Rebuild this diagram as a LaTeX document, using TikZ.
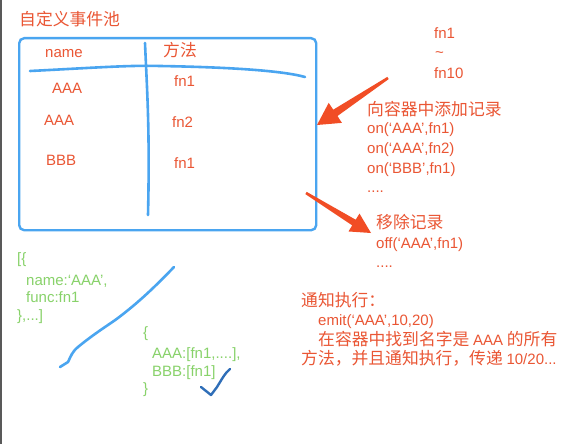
\documentclass[tikz,border=0pt]{standalone}
\usepackage{fontspec}
\setmainfont{Liberation Sans}
\newfontfamily\cjk{Noto Sans CJK SC}
\usetikzlibrary{arrows.meta,calc}
\definecolor{txtred}{HTML}{EA5634}
\definecolor{arrred}{HTML}{F14D25}
\definecolor{penblue}{HTML}{4AA5F0}
\definecolor{pengreen}{HTML}{88D26A}
\definecolor{checkblue}{HTML}{2F6EB8}
\newcommand\latxt[1]{{\rmfamily\fontsize{15}{18}\selectfont #1}}
\begin{document}
\begin{tikzpicture}[x=1pt,y=-1pt,
  lbl/.style={inner sep=0pt, anchor=base west, font=\fontsize{15}{18}\selectfont, text=txtred},
  cn/.style={lbl, font=\cjk\fontsize{16.8}{20}\selectfont},
  grn/.style={lbl, text=pengreen},
  pen/.style={penblue, line width=2.6pt, line cap=round, line join=round}]
\useasboundingbox (0,0) rectangle (568,444);
\fill[white] (0,0) rectangle (568,444);
\fill[black!65] (0,0) rectangle (2.2,444);

% title
\node[cn] (title) at (19,26) {自定义事件池};

% pool box
\node[draw=penblue, line width=2.4pt, rounded corners=5pt, minimum width=297pt,
      minimum height=192pt, anchor=north west, inner sep=0pt] (pool) at (18,37) {};
\draw[pen] (30,71) .. controls (90,68) and (130,65) .. (160,66)
           .. controls (220,67) and (280,70) .. (305,77);
\draw[pen] (145,43) .. controls (147,90) and (150,130) .. (148,215);

\node[lbl] (hname) at (45,58) {name};
\node[cn] (hfunc) at (163,57) {方法};
\node[lbl] (r1a) at (52,94) {AAA};
\node[lbl] (r2a) at (44,125) {AAA};
\node[lbl] (r3a) at (46,165) {BBB};
\node[lbl] (r1b) at (174,87) {fn1};
\node[lbl] (r2b) at (172,128) {fn2};
\node[lbl] (r3b) at (174,168) {fn1};

% fn range
\node[lbl] (f1) at (434,39) {fn1};
\node[lbl] (ft) at (435,58) {\textasciitilde};
\node[lbl] (f10) at (434,78) {fn10};

% add
\node[cn] (add) at (367,115) {向容器中添加记录};
\node[lbl] (on1) at (367,133) {on(‘AAA’,fn1)};
\node[lbl] (on2) at (367,153) {on(‘AAA’,fn2)};
\node[lbl] (on3) at (367,173) {on(‘BBB’,fn1)};
\node[lbl] (ond) at (367,192) {....};

% remove
\node[cn] (rem) at (376,228) {移除记录};
\node[lbl] (off1) at (376,248) {off(‘AAA’,fn1)};
\node[lbl] (offd) at (376,267) {....};

% tapered arrows
\coordinate (a1s) at (388,78);
\coordinate (a1e) at (317,125);
\coordinate (a1b) at ($(a1e)!22pt!(a1s)$);
\fill[arrred] ($(a1s)!1.3pt!90:(a1e)$) -- ($(a1b)!3.8pt!-90:(a1s)$)
  -- ($(a1b)!12pt!-90:(a1s)$) -- (a1e) -- ($(a1b)!12pt!90:(a1s)$)
  -- ($(a1b)!3.8pt!90:(a1s)$) -- ($(a1s)!1.3pt!-90:(a1e)$) -- cycle;
\coordinate (a2s) at (306,193);
\coordinate (a2e) at (371,233);
\coordinate (a2b) at ($(a2e)!20pt!(a2s)$);
\fill[arrred] ($(a2s)!1.3pt!90:(a2e)$) -- ($(a2b)!3.3pt!-90:(a2s)$)
  -- ($(a2b)!10.5pt!-90:(a2s)$) -- (a2e) -- ($(a2b)!10.5pt!90:(a2s)$)
  -- ($(a2b)!3.3pt!90:(a2s)$) -- ($(a2s)!1.3pt!-90:(a2e)$) -- cycle;

% notify
\node[cn] (emt) at (301,306) {通知执行：};
\node[lbl] (emc) at (318,325) {emit(‘AAA’,10,20)};
\node[cn] (emd1) at (318,345) {在容器中找到名字是 \latxt{AAA} 的所有};
\node[cn] (emd2) at (301,364) {方法，并且通知执行，传递 \latxt{10/20...}};

% green structures
\node[grn] (g1) at (17,263) {[\{};
\node[grn] (g2) at (26,285) {name:‘AAA’,};
\node[grn] (g3) at (26,302) {func:fn1};
\node[grn] (g4) at (17,320) {\},...]};

\node[grn] (h1) at (143,337) {\{};
\node[grn] (h2) at (152,358) {AAA:[fn1,....],};
\node[grn] (h3) at (152,376) {BBB:[fn1]};
\node[grn] (h4) at (143,393) {\}};

% pen strokes
\draw[pen] (60,367) -- (68,362) .. controls (71,356) and (72,352) .. (78,347)
  .. controls (95,333) and (110,324) .. (118,318)
  .. controls (135,305) and (150,292) .. (174,267);
\draw[checkblue, line width=2.4pt, line cap=round, line join=round]
  (201,387) -- (211,395) -- (217,387) .. controls (222,379) and (225,373) .. (230,369);
\end{tikzpicture}
\end{document}
